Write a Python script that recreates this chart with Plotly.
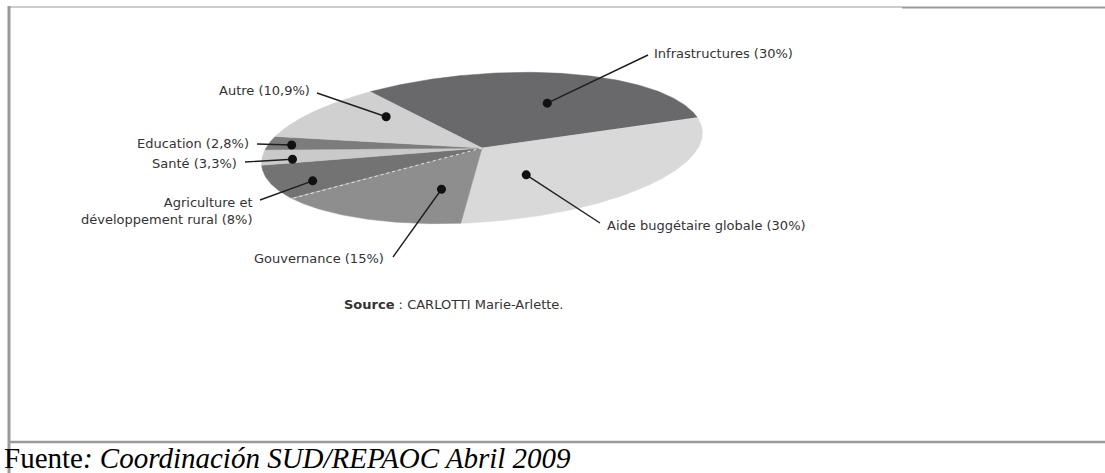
"Aide au développement - répartition sectorielle (camembert en perspective)"

import math
import plotly.graph_objects as go

# ---- data ----
sectors = [
    "Infrastructures",
    "Aide buggétaire globale",
    "Gouvernance",
    "Agriculture et<br>développement rural",
    "Santé",
    "Education",
    "Autre",
]
shares = [30, 30, 15, 8, 3.3, 2.8, 10.9]
slice_colors = ["#69696c", "#d9d9d9", "#8e8e8e", "#737373", "#cacaca", "#7c7c7c", "#d0d0d0"]

source_text = "<b>Source</b> : CARLOTTI Marie-Arlette."
fuente_text = "Fuente<i>: Coordinación SUD/REPAOC Abril 2009</i>"

# ---- pie geometry (page pixels, y down) ----
CX, CY = 482, 148
RX, RY = 221, 74
TILT = math.radians(4.4)
START = 119  # degrees, boundary Autre / Infrastructures, slices run clockwise

LABEL_FONT = dict(family="DejaVu Sans", size=13, color="#333333")

# callout per slice: dot position in pie space (angle, radius fraction),
# leader end and label anchor in page pixels
callouts = [
    dict(dot=(60, 0.62), end=(648, 55), lab=(652, 53), anchor="left"),
    dict(dot=(-65, 0.45), end=(600, 223), lab=(605, 225), anchor="left"),
    dict(dot=(-111, 0.55), end=(393, 257), lab=(386, 258), anchor="right"),
    dict(dot=(-161, 0.82), end=(260, 200), lab=(255, 211), anchor="right"),
    dict(dot=(-183, 0.86), end=(245, 162), lab=(239, 163), anchor="right"),
    dict(dot=(-195.5, 0.89), end=(257, 144), lab=(251, 143), anchor="right"),
    dict(dot=(129, 0.67), end=(317, 93), lab=(312, 90), anchor="right"),
]


def project(t_deg, r=1.0):
    """Map an angle/radius on the flat pie to the tilted ellipse on the page."""
    t = math.radians(t_deg)
    u = RX * r * math.cos(t)
    v = RY * r * math.sin(t)
    x = CX + u * math.cos(TILT) - v * math.sin(TILT)
    y_up = u * math.sin(TILT) + v * math.cos(TILT)
    return x, CY - y_up


def fmt_share(v):
    return f"{v:g}".replace(".", ",")


fig = go.Figure()

total = sum(shares)
angle = START
edges = []
for name, val, col in zip(sectors, shares, slice_colors):
    span = 360 * val / total
    steps = max(int(span * 2), 4)
    xs, ys = [CX], [CY]
    for k in range(steps + 1):
        px, py = project(angle - span * k / steps)
        xs.append(px)
        ys.append(py)
    xs.append(CX)
    ys.append(CY)
    fig.add_trace(go.Scatter(
        x=xs, y=ys, mode="lines", fill="toself", fillcolor=col,
        line=dict(color=col, width=0.5), hoverinfo="skip", name=name,
    ))
    angle -= span
    edges.append(angle)

# faint dotted seam between Gouvernance and Agriculture, as in the scan
ex, ey = project(edges[2])
fig.add_trace(go.Scatter(
    x=[CX, ex], y=[CY, ey], mode="lines",
    line=dict(color="#e6e6e6", width=1, dash="dot"), hoverinfo="skip",
))

# leaders, dots and labels
for name, val, c in zip(sectors, shares, callouts):
    dx, dy = project(c["dot"][0], c["dot"][1])
    fig.add_trace(go.Scatter(
        x=[dx, c["end"][0]], y=[dy, c["end"][1]], mode="lines",
        line=dict(color="#1e1e1e", width=1.4), hoverinfo="skip",
    ))
    fig.add_trace(go.Scatter(
        x=[dx], y=[dy], mode="markers",
        marker=dict(color="#111111", size=9), hoverinfo="skip",
    ))
    fig.add_annotation(
        x=c["lab"][0], y=c["lab"][1], text=f"{name} ({fmt_share(val)}%)",
        showarrow=False, xanchor=c["anchor"], yanchor="middle", align="right",
        font=LABEL_FONT,
    )

fig.add_annotation(
    x=453, y=304, text=source_text, showarrow=False, font=LABEL_FONT,
)
fig.add_annotation(
    x=2, y=458, text=fuente_text, showarrow=False, xanchor="left", yanchor="middle",
    font=dict(family="Liberation Serif", size=29, color="#000000"),
)

# frame of the document box
frame = dict(color="#9a9a9a")
fig.add_shape(type="line", x0=9, x1=9, y0=6, y1=473, line=dict(width=3, **frame))
fig.add_shape(type="line", x0=8, x1=902, y0=7, y1=7, line=dict(width=1, **frame))
fig.add_shape(type="line", x0=902, x1=1105, y0=7.5, y1=7.5, line=dict(width=2, **frame))
fig.add_shape(type="line", x0=8, x1=1105, y0=442, y1=442, line=dict(width=2.5, **frame))

fig.update_layout(
    width=1105, height=473,
    margin=dict(l=0, r=0, t=0, b=0),
    paper_bgcolor="white", plot_bgcolor="white",
    showlegend=False, hovermode=False,
    xaxis=dict(range=[0, 1105], visible=False, fixedrange=True),
    yaxis=dict(range=[473, 0], visible=False, fixedrange=True),
)

# drop the browser's default body margin so the figure sits at the page corner
fig.write_html(
    "out.html",
    config={"displayModeBar": False},
    post_script="document.body.style.margin='0';document.body.style.overflow='hidden';",
)
